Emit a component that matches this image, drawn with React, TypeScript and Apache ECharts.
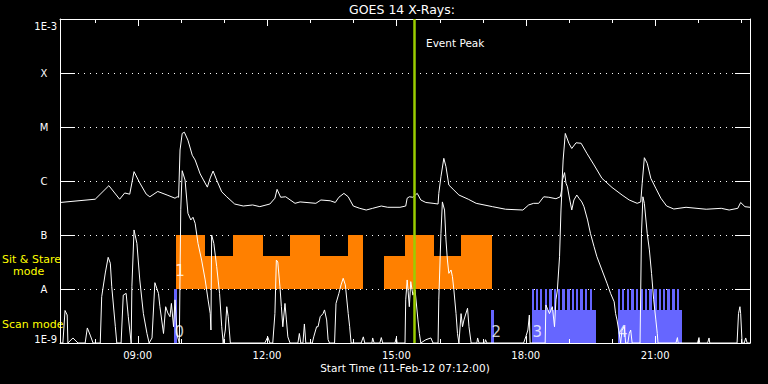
import React, { useEffect, useRef } from 'react';
import * as echarts from 'echarts';

// ---------- data ----------
const START = '07:12';
const END = '23:12';
const xTickLabels = ['09:00', '12:00', '15:00', '18:00', '21:00'];
const hourTicks = ['08:00', '09:00', '10:00', '11:00', '12:00', '13:00', '14:00', '15:00', '16:00', '17:00', '18:00', '19:00', '20:00', '21:00', '22:00', '23:00'];
const yLevelLabels = ['1E-9', 'A', 'B', 'C', 'M', 'X', '1E-3'];
const eventPeak = '15:25';

// GOES long channel (1-8 A), W/m^2
const longChannel: [string, number][] = [
  ['07:12', 4.0e-7], ['08:01', 4.6e-7], ['08:20', 8.2e-7], ['08:35', 4.6e-7], ['08:42', 6.0e-7], ['08:49', 5.7e-7],
  ['08:55', 1.49e-6], ['09:03', 9.2e-7], ['09:12', 5.7e-7], ['09:17', 5.1e-7], ['09:28', 6.4e-7], ['09:41', 5.5e-7],
  ['09:52', 4.8e-7], ['09:55', 5.1e-7], ['09:57', 5.0e-7], ['09:59', 3.75e-6], ['10:02', 7.6e-6], ['10:05', 8.0e-6],
  ['10:10', 5.7e-6], ['10:16', 3.0e-6], ['10:20', 2.45e-6], ['10:27', 1.35e-6], ['10:37', 7.7e-7], ['10:41', 1.14e-6],
  ['10:45', 1.53e-6], ['10:50', 1.04e-6], ['10:57', 6.3e-7], ['11:04', 5.1e-7], ['11:15', 3.75e-7], ['11:27', 3.44e-7],
  ['11:40', 3.6e-7], ['11:50', 3.35e-7], ['12:04', 3.75e-7], ['12:11', 4.8e-7], ['12:14', 7.0e-7], ['12:19', 5.0e-7],
  ['12:26', 5.1e-7], ['12:39', 3.86e-7], ['12:46', 4.1e-7], ['13:08', 3.86e-7], ['13:15', 4.45e-7], ['13:28', 4.3e-7],
  ['13:35', 4.0e-7], ['13:40', 5.0e-7], ['13:47', 5.9e-7], ['13:53', 5.1e-7], ['14:00', 3.44e-7], ['14:09', 3.12e-7],
  ['14:18', 2.9e-7], ['14:27', 3.12e-7], ['14:39', 3.44e-7], ['14:48', 3.26e-7], ['15:05', 3.26e-7], ['15:13', 3.44e-7],
  ['15:15', 4.8e-7], ['15:18', 5.1e-7], ['15:23', 5.0e-7], ['15:29', 5.9e-7], ['15:34', 4.45e-7], ['15:41', 4.0e-7],
  ['15:51', 3.86e-7], ['15:58', 3.75e-7], ['15:59', 5.9e-7], ['16:02', 1.2e-6], ['16:06', 2.63e-6], ['16:09', 1.84e-6],
  ['16:13', 8.4e-7], ['16:20', 6.8e-7], ['16:27', 5.5e-7], ['16:40', 4.6e-7], ['16:51', 3.86e-7], ['17:14', 3.34e-7],
  ['17:32', 3.0e-7], ['17:56', 2.9e-7], ['18:04', 3.6e-7], ['18:11', 3.86e-7], ['18:18', 3.86e-7], ['18:25', 5.1e-7],
  ['18:32', 5.0e-7], ['18:42', 4.7e-7], ['18:48', 5.1e-7], ['18:50', 6.8e-7], ['18:52', 2.45e-6], ['18:55', 7.6e-6],
  ['19:00', 5.0e-6], ['19:04', 4.0e-6], ['19:10', 5.1e-6], ['19:17', 5.0e-6], ['19:25', 3.26e-6], ['19:35', 1.98e-6],
  ['19:46', 1.12e-6], ['20:00', 7.6e-7], ['20:14', 5.5e-7], ['20:24', 4.45e-7], ['20:35', 3.86e-7], ['20:40', 4.1e-7],
  ['20:42', 9.1e-7], ['20:45', 2.7e-6], ['20:49', 2.13e-6], ['20:54', 1.12e-6], ['21:01', 7.3e-7], ['21:08', 4.8e-7],
  ['21:16', 3.44e-7], ['21:26', 3.03e-7], ['21:43', 3.26e-7], ['22:11', 3.0e-7], ['22:32', 3.12e-7], ['22:43', 2.9e-7],
  ['22:55', 3.12e-7], ['22:59', 4.0e-7], ['23:05', 3.34e-7], ['23:12', 3.26e-7],
];

// GOES short channel (0.5-4 A), W/m^2
const shortChannel: [string, number][] = [
  ['07:12', 1e-9], ['07:16', 1e-9], ['07:19', 4.0e-9], ['07:22', 3.3e-9], ['07:23', 1e-9], ['07:30', 1.24e-9], ['07:37', 1e-9],
  ['07:47', 1e-9], ['07:50', 1.9e-9], ['07:54', 1.4e-9], ['07:58', 1e-9], ['08:08', 1e-9], ['08:10', 7.2e-9], ['08:15', 1.98e-8],
  ['08:19', 3.86e-8], ['08:22', 3.0e-8], ['08:24', 1.1e-8], ['08:29', 2.0e-9], ['08:31', 1e-9], ['08:37', 1e-9], ['08:40', 7.7e-9],
  ['08:44', 8.3e-9], ['08:47', 3.07e-9], ['08:49', 1.74e-9], ['08:51', 1e-9], ['08:52', 1.1e-8], ['08:55', 1.24e-7], ['08:59', 7.0e-8],
  ['09:03', 1.47e-8], ['09:08', 3.5e-9], ['09:13', 1.5e-9], ['09:16', 1e-9], ['09:20', 1.24e-9], ['09:24', 1.31e-8], ['09:29', 8.3e-9],
  ['09:31', 4.7e-9], ['09:36', 1.5e-9], ['09:39', 4.7e-9], ['09:42', 3.6e-9], ['09:45', 3.07e-9], ['09:47', 5.4e-9], ['09:50', 2.0e-9],
  ['09:52', 6.3e-9], ['09:55', 1.4e-9], ['09:58', 1e-9], ['10:00', 3.0e-7], ['10:02', 1.55e-6], ['10:06', 1.04e-6], ['10:10', 2.52e-7],
  ['10:14', 1.9e-7], ['10:17', 2.13e-7], ['10:20', 1.65e-7], ['10:24', 7.0e-8], ['10:29', 3.44e-8], ['10:34', 1.47e-8], ['10:38', 6.3e-9],
  ['10:41', 3.5e-9], ['10:42', 1.74e-9], ['10:43', 1.0e-7], ['10:46', 7.0e-8], ['10:50', 2.6e-8], ['10:54', 8.3e-9], ['10:57', 2.0e-9],
  ['10:59', 1e-9], ['11:02', 1.74e-9], ['11:04', 4.7e-9], ['11:06', 3.07e-9], ['11:09', 1e-9], ['11:57', 1e-9], ['12:01', 1.3e-9],
  ['12:04', 1e-9], ['12:08', 1e-9], ['12:11', 3.5e-9], ['12:13', 3.44e-8], ['12:15', 3.16e-8], ['12:18', 1.1e-8], ['12:20', 4.7e-9],
  ['12:22', 2.0e-9], ['12:25', 5.4e-9], ['12:27', 2.67e-9], ['12:29', 1.3e-9], ['12:32', 1e-9], ['12:43', 1e-9], ['12:45', 1.5e-9],
  ['12:47', 1e-9], ['12:50', 1e-9], ['12:52', 2.25e-9], ['12:54', 1e-9], ['13:03', 1e-9], ['13:05', 1.3e-9], ['13:09', 2.0e-9],
  ['13:11', 2.0e-9], ['13:14', 3.07e-9], ['13:18', 3.5e-9], ['13:20', 4.1e-9], ['13:23', 2.67e-9], ['13:25', 1.15e-9], ['13:27', 1e-9],
  ['13:34', 1e-9], ['13:36', 5.4e-9], ['13:40', 8.3e-9], ['13:43', 1.19e-8], ['13:46', 1.58e-8], ['13:49', 1.19e-8], ['13:53', 3.5e-9],
  ['13:55', 2.0e-9], ['13:57', 1e-9], ['14:11', 1e-9], ['14:14', 1.3e-9], ['14:16', 1e-9], ['14:26', 1e-9], ['14:27', 1.24e-9],
  ['14:29', 1e-9], ['14:37', 1e-9], ['14:39', 1.26e-9], ['14:41', 1e-9], ['14:58', 1e-9], ['15:00', 1.26e-9], ['15:01', 1e-9],
  ['15:12', 1e-9], ['15:13', 6.3e-9], ['15:15', 1.47e-8], ['15:16', 1.04e-8], ['15:18', 4.7e-9], ['15:20', 1.37e-8], ['15:23', 7.7e-9],
  ['15:26', 9.6e-9], ['15:30', 2.67e-9], ['15:32', 1.5e-9], ['15:34', 1e-9], ['15:41', 1.15e-9], ['15:48', 1.24e-9], ['15:51', 1e-9],
  ['15:58', 1e-9], ['15:59', 6.3e-9], ['16:02', 1.07e-7], ['16:04', 4.1e-7], ['16:07', 2.9e-7], ['16:09', 8.1e-8], ['16:11', 3.44e-8],
  ['16:13', 1.95e-8], ['16:16', 2.25e-8], ['16:18', 1.69e-8], ['16:20', 9.6e-9], ['16:23', 3.5e-9], ['16:25', 1.5e-9], ['16:27', 1e-9],
  ['16:30', 3.5e-9], ['16:32', 2.0e-9], ['16:34', 2.67e-9], ['16:39', 4.4e-9], ['16:41', 2.0e-9], ['16:44', 1e-9], ['16:52', 1e-9],
  ['16:53', 1.24e-9], ['16:55', 1e-9], ['17:03', 1e-9], ['17:04', 1.15e-9], ['17:06', 1e-9], ['17:57', 1e-9], ['18:00', 1.3e-9],
  ['18:03', 1.74e-9], ['18:05', 3.3e-9], ['18:06', 1e-9], ['18:27', 1e-9], ['18:28', 5.06e-9], ['18:33', 3.5e-9], ['18:37', 4.7e-9],
  ['18:40', 2.0e-9], ['18:42', 6.3e-9], ['18:44', 9.6e-9], ['18:47', 3.96e-8], ['18:49', 2.9e-7], ['18:51', 1.04e-6], ['18:54', 1.43e-6],
  ['18:56', 9.1e-7], ['18:58', 7.8e-7], ['19:00', 5.5e-7], ['19:04', 2.9e-7], ['19:07', 4.45e-7], ['19:11', 5.5e-7], ['19:14', 4.8e-7],
  ['19:18', 4.1e-7], ['19:21', 3.34e-7], ['19:26', 1.9e-7], ['19:30', 1.07e-7], ['19:35', 6.1e-8], ['19:39', 3.96e-8], ['19:46', 2.25e-8],
  ['19:53', 1.28e-8], ['19:58', 8.3e-9], ['20:03', 5.8e-9], ['20:05', 3.5e-9], ['20:07', 2.67e-9], ['20:10', 1.5e-9], ['20:12', 1e-9],
  ['20:14', 1.74e-9], ['20:17', 2.0e-9], ['20:19', 1e-9], ['20:22', 1e-9], ['20:24', 1.5e-9], ['20:26', 1.74e-9], ['20:28', 1e-9],
  ['20:39', 1e-9], ['20:41', 1.07e-7], ['20:43', 5.1e-7], ['20:45', 3.86e-7], ['20:49', 1.07e-7], ['20:52', 5.3e-8], ['20:55', 1.95e-8],
  ['20:58', 6.3e-9], ['21:01', 2.67e-9], ['21:03', 1.5e-9], ['21:04', 1e-9], ['21:29', 1e-9], ['21:31', 1.26e-9], ['21:32', 1e-9],
  ['21:59', 1e-9], ['22:01', 1.26e-9], ['22:02', 1e-9], ['22:13', 1e-9], ['22:15', 1.24e-9], ['22:16', 1e-9], ['22:54', 1e-9],
  ['22:56', 3.5e-9], ['22:58', 4.7e-9], ['22:59', 3.5e-9], ['23:01', 1e-9], ['23:04', 1e-9], ['23:06', 1.24e-9], ['23:08', 1e-9],
  ['23:12', 1e-9],
];

// Sit & Stare mode blocks: [start, end, top flux] (bottom at A level)
const sitStareBottom = 1e-8;
const sitStareBlocks: [string, string, number][] = [
  ['09:53', '10:34', 1e-7], ['10:34', '11:13', 4.1e-8], ['11:13', '11:54', 1e-7], ['11:54', '12:32', 4.1e-8],
  ['12:32', '13:14', 1e-7], ['13:14', '13:53', 4.1e-8], ['13:53', '14:14', 1e-7], ['14:43', '15:12', 4.1e-8],
  ['15:12', '15:52', 1e-7], ['15:52', '16:30', 4.1e-8], ['16:30', '17:13', 1e-7],
];

// Scan mode blocks: [start, end, top flux] (bottom at 1E-9)
const scanBottom = 1e-9;
const scanBlocks: [string, string, number][] = [
  ['09:50', '09:55', 1e-8], ['17:12', '17:16', 4.1e-9], ['18:08', '19:38', 4.1e-9], ['20:08', '21:37', 4.1e-9],
];
const scanSpikeTop = 1e-8;
const scanSpikeDuration = 3; // minutes
const scanSpikeTimes = [
  '18:08', '18:14', '18:20', '18:27', '18:33', '18:39', '18:45', '18:51', '18:58', '19:04', '19:10', '19:16', '19:22', '19:29',
  '20:08', '20:14', '20:21', '20:27', '20:33', '20:40', '20:46', '20:52', '20:59', '21:05', '21:11', '21:17', '21:24', '21:30',
];

// mode sequence numbers: [time, flux, text]
const modeLabels: [string, number, string][] = [
  ['09:58', 1.6e-9, '0'], ['09:59', 2.15e-8, '1'], ['17:19', 1.6e-9, '2'], ['18:16', 1.6e-9, '3'], ['20:15', 1.6e-9, '4'],
];

// ---------- helpers ----------
const toMin = (s: string) => {
  const [h, m] = s.split(':').map(Number);
  return h * 60 + m;
};
const pad = (n: number) => (n < 10 ? '0' + n : '' + n);
const FONT = 'DejaVu Sans';
const ORANGE = '#ff8000';
const BLUE = '#6666ff';
const GREEN = '#9acd00';

const rectRender = (color: string) => (params: any, api: any) => {
  const p1 = api.coord([api.value(0), api.value(2)]);
  const p2 = api.coord([api.value(1), api.value(3)]);
  const x1 = Math.round(p1[0]);
  const x2 = Math.round(p2[0]);
  const y1 = Math.round(p1[1]);
  const y2 = Math.round(p2[1]);
  return {
    type: 'rect',
    shape: { x: x1, y: y1, width: x2 - x1, height: y2 - y1 },
    style: { fill: color, stroke: null },
  };
};

export default function App() {
  const ref = useRef<HTMLDivElement>(null);
  useEffect(() => {
    if (!ref.current) return;
    const chart = echarts.init(ref.current, undefined, { renderer: 'svg' });
    const xMin = toMin(START);
    const xMax = toMin(END);
    const majorSet = new Set(xTickLabels.map(toMin));

    const axisCommonX = {
      type: 'value',
      min: xMin,
      max: xMax,
      interval: 12,
      splitLine: { show: false },
      axisTick: { show: false },
      axisLine: { show: true, lineStyle: { color: '#fff', width: 1 } },
    };

    const option: any = {
      animation: false,
      backgroundColor: '#000',
      grid: { left: 60, right: 18, top: 19, bottom: 41, containLabel: false },
      xAxis: [
        {
          ...axisCommonX,
          position: 'bottom',
          axisLabel: {
            show: true,
            color: '#fff',
            fontFamily: FONT,
            fontSize: 10,
            margin: 7,
            showMinLabel: false,
            showMaxLabel: false,
            formatter: (v: number) => (majorSet.has(v) ? pad(Math.floor(v / 60)) + ':' + pad(v % 60) : ''),
          },
        },
        { ...axisCommonX, position: 'top', axisLabel: { show: false } },
      ],
      yAxis: [
        {
          type: 'log',
          logBase: 10,
          min: 1e-9,
          max: 1e-3,
          interval: 1,
          splitNumber: 6,
          position: 'left',
          axisLine: { show: true, lineStyle: { color: '#fff', width: 1 } },
          axisTick: { show: true, inside: true, length: 15, lineStyle: { color: '#fff', width: 1 } },
          splitLine: { show: true, lineStyle: { color: '#fff', width: 1, type: [1, 5] } },
          axisLabel: {
            color: '#ffffff',
            fontFamily: FONT,
            fontSize: 10,
            margin: 3,
            formatter: (v: number) => {
              const e = Math.round(Math.log10(v));
              const lab = yLevelLabels[e + 9];
              if (e === -3) return '{t|' + lab + '}';
              if (e === -9) return '{b|' + lab + '}';
              return '{l|' + lab + '}';
            },
            rich: {
              t: { color: '#ffffff', fontFamily: FONT, fontSize: 10, padding: [15, 0, 0, 0] },
              b: { color: '#ffffff', fontFamily: FONT, fontSize: 10, padding: [0, 0, 7, 0] },
              l: { color: '#ffffff', fontFamily: FONT, fontSize: 10, width: 26, align: 'center' },
            },
          },
        },
        {
          type: 'log',
          logBase: 10,
          min: 1e-9,
          max: 1e-3,
          interval: 1,
          splitNumber: 6,
          position: 'right',
          axisLine: { show: true, lineStyle: { color: '#fff', width: 1 } },
          axisTick: { show: true, inside: true, length: 15, lineStyle: { color: '#fff', width: 1 } },
          splitLine: { show: false },
          axisLabel: { show: false },
        },
      ],
      series: [
        {
          type: 'custom',
          name: 'sitstare',
          z: 1,
          renderItem: rectRender(ORANGE),
          encode: { x: [0, 1], y: [2, 3] },
          data: sitStareBlocks.map(([s, e, top]) => [toMin(s), toMin(e), top, sitStareBottom]),
        },
        {
          type: 'custom',
          name: 'scan',
          z: 1,
          renderItem: rectRender(BLUE),
          encode: { x: [0, 1], y: [2, 3] },
          data: scanBlocks.map(([s, e, top]) => [toMin(s), toMin(e), top, scanBottom]),
        },
        {
          type: 'custom',
          name: 'scanSpikes',
          z: 1,
          renderItem: rectRender(BLUE),
          encode: { x: [0, 1], y: [2, 3] },
          data: scanSpikeTimes.map((s) => [toMin(s), toMin(s) + scanSpikeDuration, scanSpikeTop, scanBottom]),
        },
        {
          type: 'line',
          name: 'short',
          z: 3,
          showSymbol: false,
          symbol: 'none',
          lineStyle: { color: '#fff', width: 1 },
          data: shortChannel.map(([t, f]) => [toMin(t), f]),
        },
        {
          type: 'line',
          name: 'long',
          z: 3,
          showSymbol: false,
          symbol: 'none',
          lineStyle: { color: '#fff', width: 1 },
          data: longChannel.map(([t, f]) => [toMin(t), f]),
        },
        {
          type: 'scatter',
          name: 'modeNums',
          z: 4,
          symbolSize: 1,
          itemStyle: { color: 'rgba(0,0,0,0)' },
          label: {
            show: true,
            position: 'inside',
            formatter: '{b}',
            color: '#fff',
            fontFamily: FONT,
            fontSize: 15,
          },
          data: modeLabels.map(([t, f, txt]) => ({ name: txt, value: [toMin(t), f] })),
        },
        {
          type: 'custom',
          name: 'timeTicks',
          z: 5,
          renderItem: (params: any, api: any) => {
            const m = api.value(0);
            const len = api.value(1) ? 7 : 4;
            const pt = api.coord([m, 1e-3]);
            const pb = api.coord([m, 1e-9]);
            const x = Math.round(pt[0]) + 0.5;
            return {
              type: 'group',
              children: [
                { type: 'line', shape: { x1: x, y1: pt[1], x2: x, y2: pt[1] + len }, style: { stroke: '#fff', lineWidth: 1 } },
                { type: 'line', shape: { x1: x, y1: pb[1], x2: x, y2: pb[1] - len }, style: { stroke: '#fff', lineWidth: 1 } },
              ],
            };
          },
          encode: { x: 0 },
          data: hourTicks.map((h) => [toMin(h), majorSet.has(toMin(h)) ? 1 : 0]),
        },
        {
          type: 'line',
          name: 'eventPeak',
          z: 6,
          data: [],
          markLine: {
            silent: true,
            symbol: 'none',
            label: { show: false },
            lineStyle: { color: GREEN, width: 2.5, type: 'solid' },
            data: [{ xAxis: toMin(eventPeak) }],
          },
        },
      ],
      graphic: [
        {
          type: 'text',
          x: 402,
          y: 9,
          style: { text: 'GOES 14 X-Rays:', fill: '#fff', font: `12.5px "${FONT}"`, textAlign: 'center', textVerticalAlign: 'middle' },
        },
        {
          type: 'text',
          x: 426,
          y: 43,
          style: { text: 'Event Peak', fill: '#fff', font: `10.5px "${FONT}"`, textAlign: 'left', textVerticalAlign: 'middle' },
        },
        {
          type: 'text',
          x: 405,
          y: 368,
          style: { text: 'Start Time (11-Feb-12 07:12:00)', fill: '#fff', font: `10.5px "${FONT}"`, textAlign: 'center', textVerticalAlign: 'middle' },
        },
        {
          type: 'text',
          x: 2,
          y: 259,
          style: { text: 'Sit & Stare', fill: '#ffff00', font: `11px "${FONT}"`, textAlign: 'left', textVerticalAlign: 'middle' },
        },
        {
          type: 'text',
          x: 13,
          y: 271,
          style: { text: 'mode', fill: '#ffff00', font: `11px "${FONT}"`, textAlign: 'left', textVerticalAlign: 'middle' },
        },
        {
          type: 'text',
          x: 2,
          y: 324,
          style: { text: 'Scan mode', fill: '#ffff00', font: `11px "${FONT}"`, textAlign: 'left', textVerticalAlign: 'middle' },
        },
      ],
    };
    chart.setOption(option);
    return () => chart.dispose();
  }, []);
  return (
    <div
      ref={ref}
      style={{ position: 'fixed', left: 0, top: 0, width: 768, height: 384, background: '#000' }}
    />
  );
}
